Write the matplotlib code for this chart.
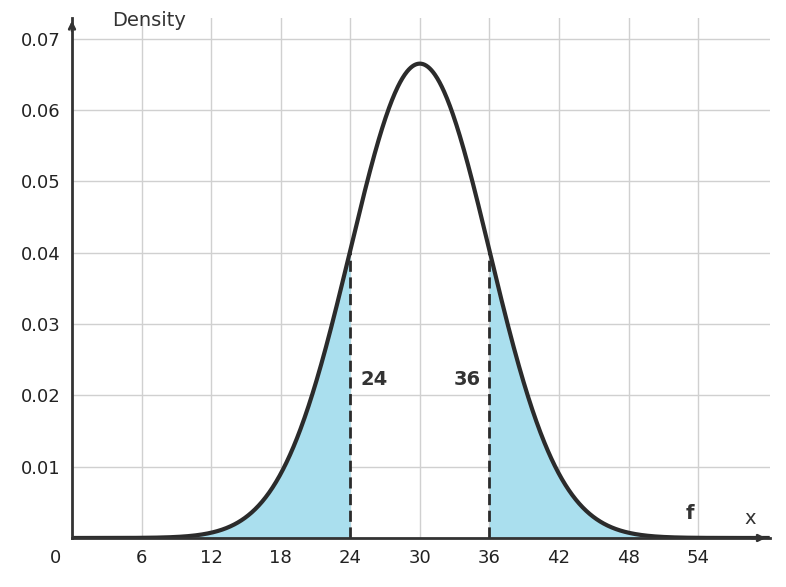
import numpy as np
import matplotlib
matplotlib.use("Agg")
import matplotlib.pyplot as plt

mu = 30.0
sigma = 6.0
cut_low, cut_high = 24, 36
xticks = [6, 12, 18, 24, 30, 36, 42, 48, 54]
yticks = [0.01, 0.02, 0.03, 0.04, 0.05, 0.06, 0.07]

x = np.linspace(0, 60, 1201)
y = np.exp(-0.5 * ((x - mu) / sigma) ** 2) / (sigma * np.sqrt(2 * np.pi))

fig = plt.figure(figsize=(7.86, 5.87), dpi=100)
ax = fig.add_axes([0.0916, 0.0835, 0.888, 0.886])
ax.set_xlim(0, 60.2)
ax.set_ylim(0, 0.0729)
ax.grid(True, color="#d0d0d0", lw=1)
ax.set_axisbelow(True)
ax.set_xticks(xticks)
ax.set_yticks(yticks)
ax.set_xticklabels([str(t) for t in xticks])
ax.set_yticklabels([f"{t:.2f}" for t in yticks])
ax.tick_params(length=0, labelsize=13, colors="#222222", pad=8)
for s in ["top", "right"]:
    ax.spines[s].set_visible(False)
for s in ["left", "bottom"]:
    ax.spines[s].set_linewidth(2)
    ax.spines[s].set_color("#333333")

ax.fill_between(x, y, where=x <= cut_low, color="#aadfee", lw=0)
ax.fill_between(x, y, where=x >= cut_high, color="#aadfee", lw=0)
ax.plot(x, y, color="#2b2b2b", lw=3)
for c in (cut_low, cut_high):
    yc = np.exp(-0.5 * ((c - mu) / sigma) ** 2) / (sigma * np.sqrt(2 * np.pi))
    ax.plot([c, c], [0, yc], color="#2b2b2b", lw=2, ls=(0, (4, 2)))

ax.text(24.9, 0.0222, "24", fontsize=14, fontweight="bold", color="#333333", va="center")
ax.text(35.3, 0.0222, "36", fontsize=14, fontweight="bold", color="#333333", va="center", ha="right")
ax.text(53.3, 0.0035, "f", fontsize=14, fontweight="bold", color="#333333", va="center", ha="center")
ax.text(58.5, 0.0027, "x", fontsize=14, color="#333333", va="center", ha="center")
ax.text(3.5, 0.0725, "Density", fontsize=14, color="#333333", va="center")
ax.text(-1.4, -0.0028, "0", fontsize=13, color="#222222", va="center", ha="center")

ax.annotate("", xy=(0.998, 0), xytext=(0.97, 0), xycoords="axes fraction",
            arrowprops=dict(arrowstyle="->", color="#333333", lw=2), annotation_clip=False)
ax.annotate("", xy=(0, 1.0), xytext=(0, 0.97), xycoords="axes fraction",
            arrowprops=dict(arrowstyle="->", color="#333333", lw=2), annotation_clip=False)

fig.savefig("out.png", dpi=100)
